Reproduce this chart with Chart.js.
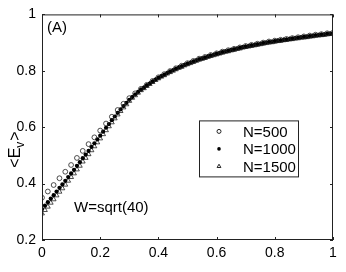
<!DOCTYPE html>
<html>
<head>
<meta charset="utf-8">
<script src="https://cdn.jsdelivr.net/npm/chart.js@4.4.0/dist/chart.umd.min.js"></script>
<style>
  html, body { margin: 0; padding: 0; background: #fff; }
  #wrap { width: 346px; height: 272px; }
</style>
</head>
<body>
<div id="wrap"><canvas id="plot" width="346" height="272"></canvas></div>
<script>
// x positions of the samples
const xFine = [0,0.01,0.02,0.03,0.04,0.05,0.06,0.07,0.08,0.09,0.1,0.11,0.12,0.13,0.14,0.15,0.16,0.17,0.18,0.19,0.2,
  0.21,0.22,0.23,0.24,0.25,0.26,0.27,0.28,0.29,0.3,0.31,0.32,0.33,0.34,0.35,0.36,0.37,0.38,0.39,0.4,
  0.41,0.42,0.43,0.44,0.45,0.46,0.47,0.48,0.49,0.5,0.51,0.52,0.53,0.54,0.55,0.56,0.57,0.58,0.59,0.6,
  0.61,0.62,0.63,0.64,0.65,0.66,0.67,0.68,0.69,0.7,0.71,0.72,0.73,0.74,0.75,0.76,0.77,0.78,0.79,0.8,
  0.81,0.82,0.83,0.84,0.85,0.86,0.87,0.88,0.89,0.9,0.91,0.92,0.93,0.94,0.95,0.96,0.97,0.98,0.99,1];
const xCoarse = [0,0.02,0.04,0.06,0.08,0.1,0.12,0.14,0.16,0.18,0.2,0.22,0.24,0.26,0.28,0.3,0.32,0.34,0.36,0.38,0.4,
  0.42,0.44,0.46,0.48,0.5,0.52,0.54,0.56,0.58,0.6,0.62,0.64,0.66,0.68,0.7,0.72,0.74,0.76,0.78,0.8,
  0.82,0.84,0.86,0.88,0.9,0.92,0.94,0.96,0.98,1];

// <E_v> for each system size
const ev500 = [0.350,0.372,0.395,0.419,0.442,0.466,0.491,0.516,0.540,0.564,0.588,0.613,0.637,0.661,0.683,0.703,0.720,0.736,0.750,0.764,0.777,
  0.788,0.799,0.809,0.818,0.827,0.835,0.843,0.849,0.856,0.862,0.868,0.873,0.878,0.883,0.888,0.892,0.896,0.900,0.904,0.907,
  0.910,0.913,0.916,0.919,0.922,0.925,0.928,0.930,0.933,0.935];
const ev1000 = [0.310,0.322,0.334,0.347,0.359,0.372,0.385,0.397,0.410,0.423,0.436,0.449,0.463,0.476,0.490,0.503,0.516,0.530,0.543,0.557,0.570,
  0.584,0.598,0.611,0.625,0.638,0.651,0.663,0.675,0.686,0.697,0.707,0.716,0.725,0.733,0.740,0.748,0.755,0.762,0.769,0.775,
  0.781,0.786,0.792,0.797,0.802,0.807,0.812,0.816,0.821,0.825,0.829,0.833,0.837,0.841,0.844,0.847,0.851,0.854,0.857,0.860,
  0.863,0.866,0.869,0.871,0.874,0.876,0.879,0.881,0.884,0.886,0.888,0.890,0.892,0.894,0.896,0.898,0.900,0.902,0.903,0.905,
  0.907,0.908,0.910,0.911,0.913,0.914,0.916,0.917,0.919,0.920,0.921,0.923,0.924,0.926,0.927,0.928,0.929,0.931,0.932,0.933];
const ev1500 = [0.294,0.306,0.318,0.332,0.344,0.358,0.371,0.383,0.396,0.410,0.423,0.436,0.450,0.463,0.478,0.491,0.504,0.518,0.532,0.546,0.560,
  0.575,0.589,0.603,0.617,0.631,0.645,0.657,0.670,0.681,0.693,0.704,0.713,0.722,0.731,0.738,0.746,0.753,0.760,0.767,0.773,
  0.779,0.784,0.790,0.795,0.800,0.805,0.810,0.814,0.819,0.823,0.827,0.831,0.835,0.839,0.842,0.845,0.849,0.852,0.855,0.858,
  0.861,0.864,0.867,0.869,0.872,0.874,0.877,0.879,0.882,0.884,0.886,0.888,0.890,0.892,0.894,0.896,0.898,0.900,0.901,0.903,
  0.905,0.906,0.908,0.909,0.911,0.912,0.914,0.915,0.917,0.918,0.919,0.921,0.922,0.924,0.925,0.926,0.927,0.929,0.930,0.931];

const seriesNames = ['N=500', 'N=1000', 'N=1500'];
const xTicks = [0, 0.2, 0.4, 0.6, 0.8, 1];
const yTicks = [0.2, 0.4, 0.6, 0.8, 1];

const FONT = '"Liberation Sans", Arial, Helvetica, sans-serif';

const toPoints = (xs, ys) => xs.map((x, i) => ({ x: x, y: ys[i] }));

// box round the plot with matlab style inward ticks
const framePlugin = {
    id: 'frame',
    afterDatasetsDraw(chart) {
        const ctx = chart.ctx;
        const a = chart.chartArea;
        const xs = chart.scales.x;
        const ys = chart.scales.y;
        const len = 3;
        ctx.save();
        ctx.lineWidth = 1;
        ctx.strokeStyle = '#222';
        ctx.strokeRect(a.left + 0.5, a.top + 0.5, a.right - a.left - 1, a.bottom - a.top - 1);
        ctx.beginPath();
        xTicks.forEach(v => {
            const px = Math.round(xs.getPixelForValue(v)) + 0.5;
            ctx.moveTo(px, a.bottom); ctx.lineTo(px, a.bottom - len);
            ctx.moveTo(px, a.top); ctx.lineTo(px, a.top + len);
        });
        yTicks.forEach(v => {
            const py = Math.round(ys.getPixelForValue(v)) + 0.5;
            ctx.moveTo(a.left, py); ctx.lineTo(a.left + len, py);
            ctx.moveTo(a.right, py); ctx.lineTo(a.right - len, py);
        });
        ctx.stroke();
        ctx.restore();
    },
    afterDraw(chart) {
        const ctx = chart.ctx;
        const a = chart.chartArea;
        ctx.save();
        ctx.fillStyle = '#000';
        ctx.textBaseline = 'middle';

        // panel tag and annotation
        ctx.font = '15px ' + FONT;
        ctx.textAlign = 'left';
        ctx.fillText('(A)', a.left + 5, a.top + 13);
        ctx.fillText('W=sqrt(40)', a.left + 32, a.bottom - 32);

        // y axis title <E_v>
        ctx.translate(15, 150);
        ctx.rotate(-Math.PI / 2);
        ctx.textAlign = 'left';
        ctx.textBaseline = 'alphabetic';
        ctx.font = '16px ' + FONT;
        const w1 = ctx.measureText('<E').width;
        ctx.font = '12px ' + FONT;
        const w2 = ctx.measureText('v').width;
        ctx.font = '16px ' + FONT;
        const w3 = ctx.measureText('>').width;
        let x0 = -(w1 + w2 + w3) / 2;
        ctx.fillText('<E', x0, 5);
        ctx.font = '12px ' + FONT;
        ctx.fillText('v', x0 + w1, 9);
        ctx.font = '16px ' + FONT;
        ctx.fillText('>', x0 + w1 + w2 + 1, 5);
        ctx.restore();

        // legend box
        const bx = a.left + 157, by = a.top + 106, bw = 99, bh = 56;
        ctx.save();
        ctx.fillStyle = '#fff';
        ctx.fillRect(bx, by, bw, bh);
        ctx.strokeStyle = '#222';
        ctx.lineWidth = 1;
        ctx.strokeRect(bx + 0.5, by + 0.5, bw, bh);
        ctx.font = '15px ' + FONT;
        ctx.textBaseline = 'middle';
        ctx.textAlign = 'left';
        chart.data.datasets.forEach((ds, i) => {
            const cy = by + 11 + i * 17.5;
            ctx.strokeStyle = ds.pointBorderColor;
            ctx.fillStyle = ds.pointBackgroundColor;
            Chart.helpers.drawPoint(ctx, {
                pointStyle: ds.pointStyle,
                radius: ds.legendRadius,
                borderWidth: ds.pointBorderWidth,
                rotation: 0
            }, bx + 20, cy);
            ctx.fillStyle = '#000';
            ctx.fillText(ds.label, bx + 44, cy + 1);
        });
        ctx.restore();
    }
};

const ctx = document.getElementById('plot').getContext('2d');
new Chart(ctx, {
    type: 'scatter',
    data: {
        datasets: [
            {
                label: seriesNames[0],
                data: toPoints(xCoarse, ev500),
                pointStyle: 'circle',
                pointRadius: 2.4,
                pointBorderWidth: 0.8,
                pointBorderColor: '#222',
                pointBackgroundColor: 'rgba(0,0,0,0)',
                legendRadius: 2,
                showLine: false
            },
            {
                label: seriesNames[1],
                data: toPoints(xFine, ev1000),
                pointStyle: 'circle',
                pointRadius: 2.1,
                pointBorderWidth: 0,
                pointBorderColor: '#000',
                pointBackgroundColor: '#000',
                legendRadius: 1.8,
                showLine: false
            },
            {
                label: seriesNames[2],
                data: toPoints(xFine, ev1500),
                pointStyle: 'triangle',
                pointRadius: 2.8,
                pointBorderWidth: 0.8,
                pointBorderColor: '#222',
                pointBackgroundColor: 'rgba(0,0,0,0)',
                legendRadius: 2.2,
                showLine: false
            }
        ]
    },
    options: {
        responsive: false,
        animation: false,
        devicePixelRatio: 1,
        layout: { padding: { top: 11, right: 13, left: 0, bottom: 0 } },
        plugins: {
            legend: { display: false },
            tooltip: { enabled: false }
        },
        scales: {
            x: {
                type: 'linear',
                min: 0,
                max: 1,
                afterBuildTicks: s => { s.ticks = xTicks.map(v => ({ value: v })); },
                afterFit: s => { s.height = 32; },
                grid: { display: false, drawTicks: false },
                border: { display: false },
                ticks: {
                    color: '#000',
                    padding: 5,
                    maxRotation: 0,
                    autoSkip: false,
                    font: { family: FONT, size: 14 },
                    callback: v => String(+v.toFixed(1))
                }
            },
            y: {
                type: 'linear',
                min: 0.2,
                max: 1,
                afterBuildTicks: s => { s.ticks = yTicks.map(v => ({ value: v })); },
                afterFit: s => { s.width = 42; },
                grid: { display: false, drawTicks: false },
                border: { display: false },
                ticks: {
                    color: '#000',
                    padding: 6,
                    autoSkip: false,
                    font: { family: FONT, size: 14 },
                    callback: v => String(+v.toFixed(1))
                }
            }
        }
    },
    plugins: [framePlugin]
});
</script>
</body>
</html>
